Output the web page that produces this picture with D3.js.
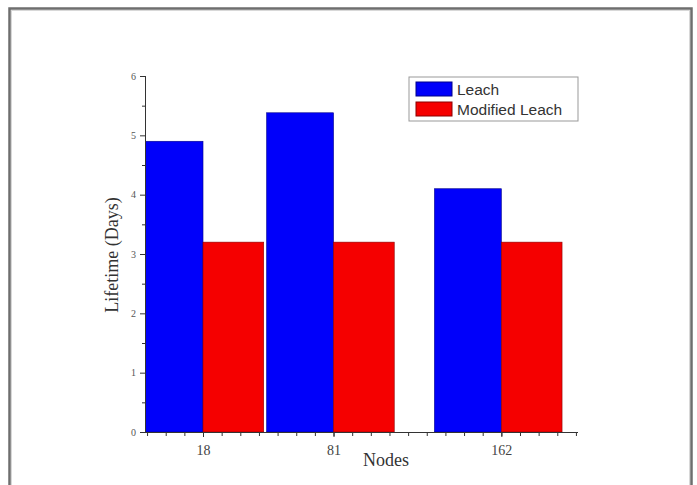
<!DOCTYPE html>
<html>
<head>
<meta charset="utf-8">
<script src="https://cdn.jsdelivr.net/npm/d3@7"></script>
<style>
  body { margin: 0; background: #fff; }
  svg { display: block; }
</style>
</head>
<body>
<svg id="chart"></svg>
<script>
// data
var nodes = [18, 81, 162];
var leach = [4.9, 5.38, 4.1];
var modifiedLeach = [3.2, 3.2, 3.2];
var seriesNames = ["Leach", "Modified Leach"];
var yTicks = [0, 1, 2, 3, 4, 5, 6];

var width = 697, height = 485;

var svg = d3.select("#chart")
            .attr("width", width)
            .attr("height", height);

// outer frame (bottom runs off the picture)
svg.append("rect")
   .attr("x", 9.5).attr("y", 8.5)
   .attr("width", 682).attr("height", 500)
   .attr("fill", "#fff")
   .attr("stroke", "#6e6e6e")
   .attr("stroke-width", 2.5);
svg.append("rect")
   .attr("x", 11.5).attr("y", 10.5)
   .attr("width", 678).attr("height", 500)
   .attr("fill", "none")
   .attr("stroke", "#d8d8d8")
   .attr("stroke-width", 1);

var plot = {left: 145, right: 578, top: 76, bottom: 432};

// scales
var xScale = d3.scaleLinear()
               .domain([-10, 199])
               .range([plot.left, plot.right]);

var yScale = d3.scaleLinear()
               .domain([0, 6])
               .range([plot.bottom, plot.top]);

var colors = ["#0000fa", "#f50000"];
var strokes = ["#00008a", "#8a0000"];
// bar widths in node units (blue bar sits left of tick, red one right)
var barW = [32.3, 29.3];

svg.append("clipPath").attr("id", "clip")
   .append("rect")
   .attr("x", plot.left).attr("y", plot.top - 10)
   .attr("width", plot.right - plot.left).attr("height", plot.bottom - plot.top + 10);

var bars = svg.append("g").attr("clip-path", "url(#clip)");

var rows = nodes.map(function(n, i){ return {n: n, a: leach[i], b: modifiedLeach[i]}; });

bars.selectAll("rect.leach")
    .data(rows).enter()
    .append("rect").classed("leach", true)
    .attr("x", function(d){ return xScale(d.n - barW[0]); })
    .attr("y", function(d){ return yScale(d.a); })
    .attr("width", function(d){ return xScale(d.n) - xScale(d.n - barW[0]); })
    .attr("height", function(d){ return yScale(0) - yScale(d.a); })
    .attr("fill", colors[0])
    .attr("stroke", strokes[0]).attr("stroke-width", 0.6);

bars.selectAll("rect.mod")
    .data(rows).enter()
    .append("rect").classed("mod", true)
    .attr("x", function(d){ return xScale(d.n); })
    .attr("y", function(d){ return yScale(d.b); })
    .attr("width", function(d){ return xScale(d.n + barW[1]) - xScale(d.n); })
    .attr("height", function(d){ return yScale(0) - yScale(d.b); })
    .attr("fill", colors[1])
    .attr("stroke", strokes[1]).attr("stroke-width", 0.6);

// y axis
var yMinor = svg.append("g")
   .attr("transform", "translate(" + plot.left + ",0)")
   .call(d3.axisLeft(yScale).tickValues(d3.range(0.5, 6, 1)).tickSize(3).tickFormat(""));
var yAxis = svg.append("g")
   .attr("transform", "translate(" + plot.left + ",0)")
   .call(d3.axisLeft(yScale).tickValues(yTicks).tickSize(5).tickPadding(4).tickFormat(d3.format("d")));
yAxis.selectAll("text")
     .attr("font-family", "Liberation Serif, Times New Roman, serif")
     .attr("font-size", 10).attr("fill", "#555");

// x axis
var xMinor = svg.append("g")
   .attr("transform", "translate(0," + plot.bottom + ")")
   .call(d3.axisBottom(xScale).tickValues(d3.range(-9, 199, 9)).tickSize(4).tickFormat(""));
var xAxis = svg.append("g")
   .attr("transform", "translate(0," + plot.bottom + ")")
   .call(d3.axisBottom(xScale).tickValues(nodes).tickSize(5).tickPadding(8).tickFormat(d3.format("d")));
xAxis.selectAll("text")
     .attr("font-family", "Liberation Serif, Times New Roman, serif")
     .attr("font-size", 14).attr("fill", "#444");

svg.selectAll(".domain, .tick line").attr("stroke", "#333").attr("stroke-width", 1);
yMinor.select(".domain").remove();
xMinor.select(".domain").remove();
xAxis.select(".domain").attr("d", "M" + plot.left + ",0.5H" + plot.right);
yAxis.select(".domain").attr("d", "M0.5," + plot.bottom + "V" + plot.top);

// titles
svg.append("text")
   .attr("x", 386).attr("y", 466)
   .attr("text-anchor", "middle")
   .attr("font-family", "Liberation Serif, Times New Roman, serif")
   .attr("font-size", 18).attr("fill", "#333")
   .text("Nodes");

svg.append("text")
   .attr("transform", "translate(118,255) rotate(-90)")
   .attr("text-anchor", "middle")
   .attr("font-family", "Liberation Serif, Times New Roman, serif")
   .attr("font-size", 18).attr("fill", "#333")
   .text("Lifetime (Days)");

// legend
var legend = svg.append("g").attr("transform", "translate(409,77)");
legend.append("rect")
      .attr("width", 169).attr("height", 44)
      .attr("fill", "#fff").attr("stroke", "#999").attr("stroke-width", 1);
legend.selectAll("rect.sw")
      .data(seriesNames).enter()
      .append("rect").classed("sw", true)
      .attr("x", 7).attr("y", function(d, i){ return 5 + i * 20; })
      .attr("width", 36).attr("height", 14)
      .attr("fill", function(d, i){ return colors[i]; })
      .attr("stroke", function(d, i){ return strokes[i]; });
legend.selectAll("text")
      .data(seriesNames).enter()
      .append("text")
      .attr("x", 48).attr("y", function(d, i){ return 18 + i * 20; })
      .attr("font-family", "Liberation Sans, Arial, sans-serif")
      .attr("font-size", 15.5).attr("fill", "#333")
      .text(function(d){ return d; });
</script>
</body>
</html>
